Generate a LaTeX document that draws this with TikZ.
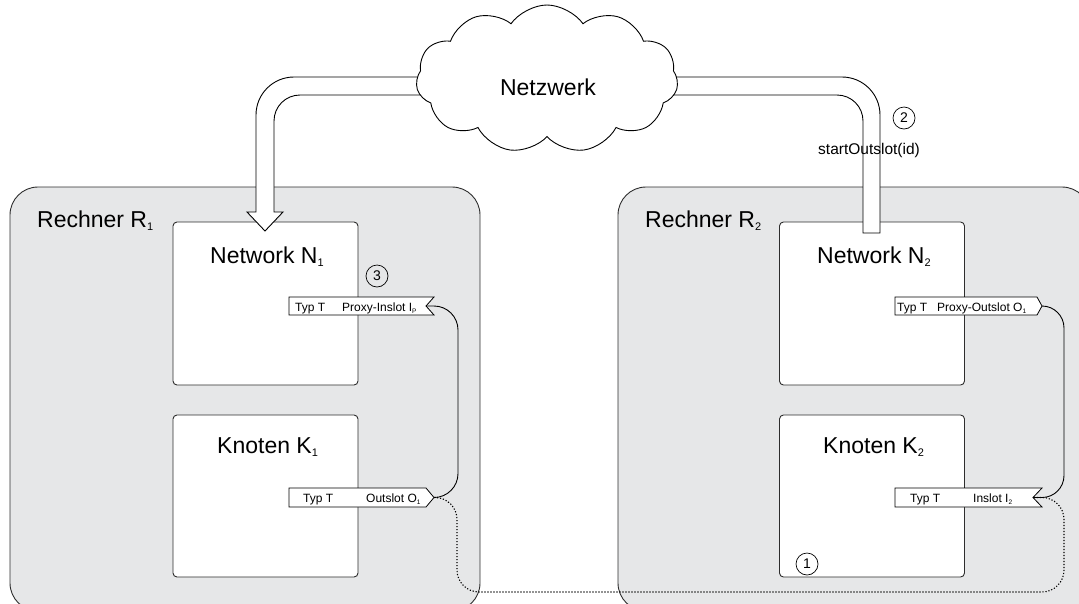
\documentclass[tikz,border=0pt]{standalone}
\usepackage{fontspec}
\setmainfont{Liberation Sans}
\usetikzlibrary{shapes.symbols}
\definecolor{boxgray}{RGB}{230,231,232}
\definecolor{edgecol}{RGB}{45,45,45}
\newcommand\bigsub[1]{\raisebox{-3.5pt}{\fontsize{11}{11}\selectfont #1}}
\newcommand\smallsub[1]{\raisebox{-2pt}{\fontsize{6.5}{6.5}\selectfont #1}}
\begin{document}
\begin{tikzpicture}[x=1pt,y=-1pt,
  rechner/.style={draw=edgecol, line width=0.9pt, fill=boxgray, rounded corners=28pt, inner sep=0pt},
  comp/.style={draw=edgecol, line width=0.9pt, fill=white, rounded corners=4pt, inner sep=0pt},
  bigtxt/.style={font=\fontsize{23}{27}\selectfont, inner sep=0pt, anchor=base west},
  slottxt/.style={font=\fontsize{12}{14}\selectfont, inner sep=0pt, anchor=base west},
  slot/.style={draw=black, line width=0.8pt, fill=white},
  tube/.style={draw=black, line width=0.9pt, fill=white},
  conn/.style={draw=black, line width=0.9pt},
  dotconn/.style={draw=black, line width=1.1pt, dash pattern=on 1.2pt off 1.8pt},
  numcirc/.style={circle, draw=black, line width=0.7pt, minimum size=22pt, inner sep=0pt, font=\fontsize{14}{14}\selectfont}
]
\useasboundingbox (0,0) rectangle (1079,603);

% computers
\node[rechner, minimum width=470pt, minimum height=424pt] (r1) at (245,399) {};
\node[rechner, minimum width=472pt, minimum height=424pt] (r2) at (854,399) {};
\node[bigtxt] (r1t) at (37,227) {Rechner R\bigsub{1}};
\node[bigtxt] (r2t) at (645,227) {Rechner R\bigsub{2}};

% components
\node[comp, minimum width=185pt, minimum height=163pt] (n1) at (265.5,303.5) {};
\node[comp, minimum width=185pt, minimum height=162pt] (k1) at (265.5,496) {};
\node[comp, minimum width=185pt, minimum height=163pt] (n2) at (872,303.5) {};
\node[comp, minimum width=185pt, minimum height=162pt] (k2) at (872,496) {};
\node[bigtxt] (n1t) at (210,263) {Network N\bigsub{1}};
\node[bigtxt] (k1t) at (217,453) {Knoten K\bigsub{1}};
\node[bigtxt] (n2t) at (817,263) {Network N\bigsub{2}};
\node[bigtxt] (k2t) at (823,453) {Knoten K\bigsub{2}};

% tubes from the network
\path[tube] (440,77) -- (294,77) .. controls (273,77) and (256,94) .. (256,115)
  -- (256,212) -- (247,212) -- (265,231) -- (283,212) -- (274,212)
  -- (274,121) .. controls (274,106.6) and (285.6,95) .. (300,95) -- (440,95) -- cycle;
\path[tube] (650,77) -- (842,77) .. controls (863,77) and (880,94) .. (880,115)
  -- (880,233) -- (863,233)
  -- (863,121) .. controls (863,106.6) and (851.4,95) .. (837,95) -- (650,95) -- cycle;

% cloud
\node[cloud, cloud puffs=11, cloud puff arc=110, cloud ignores aspect, draw=black, line width=0.9pt, fill=white,
  minimum width=262pt, minimum height=148pt, inner sep=0pt] (net) at (547,79) {};
\node[font=\fontsize{23}{27}\selectfont, inner sep=0pt] (nett) at (548,87) {Netzwerk};

\node[font=\fontsize{15.5}{18}\selectfont, inner sep=0pt, anchor=base west] (call) at (818,154) {startOutslot(id)};
\node[numcirc] (c2) at (904,118) {2};
\node[numcirc] (c3) at (377,276) {3};
\node[numcirc] (c1) at (807,564) {1};

% slot anchors
\coordinate (ipN) at (426,306);
\coordinate (o1T) at (434,497.5);
\coordinate (poT) at (1042,306);
\coordinate (i2N) at (1033,497.5);
\coordinate (bot) at (1064,592);

% connectors
\draw[conn, rounded corners=24pt] (ipN) -- ++(32,0) |- (o1T);
\draw[conn, rounded corners=22pt] (poT) -- ++(22,0) |- (i2N);
\draw[dotconn, rounded corners=22pt] (o1T) -- ++(23,0) |- (bot) |- (i2N);

% slots
\path[slot] (289,297) -- (434,297) -- (ipN) -- (434,315) -- (289,315) -- cycle;
\node[slottxt] (ipa) at (295,311) {Typ T};
\node[slottxt] (ipb) at (342,311) {Proxy-Inslot I\smallsub{P}};

\path[slot] (289,488) -- (426,488) -- (o1T) -- (426,507) -- (289,507) -- cycle;
\node[slottxt] (o1a) at (303,502) {Typ T};
\node[slottxt] (o1b) at (366,502) {Outslot O\smallsub{1}};

\path[slot] (895,297) -- (1037,297) -- (poT) -- (1037,315) -- (895,315) -- cycle;
\node[slottxt] (poa) at (897,311) {Typ T};
\node[slottxt] (pob) at (937,311) {Proxy-Outslot O\smallsub{1}};

\path[slot] (895,488) -- (1042,488) -- (i2N) -- (1042,507) -- (895,507) -- cycle;
\node[slottxt] (i2a) at (910,502) {Typ T};
\node[slottxt] (i2b) at (973,502) {Inslot I\smallsub{2}};
\end{tikzpicture}
\end{document}
